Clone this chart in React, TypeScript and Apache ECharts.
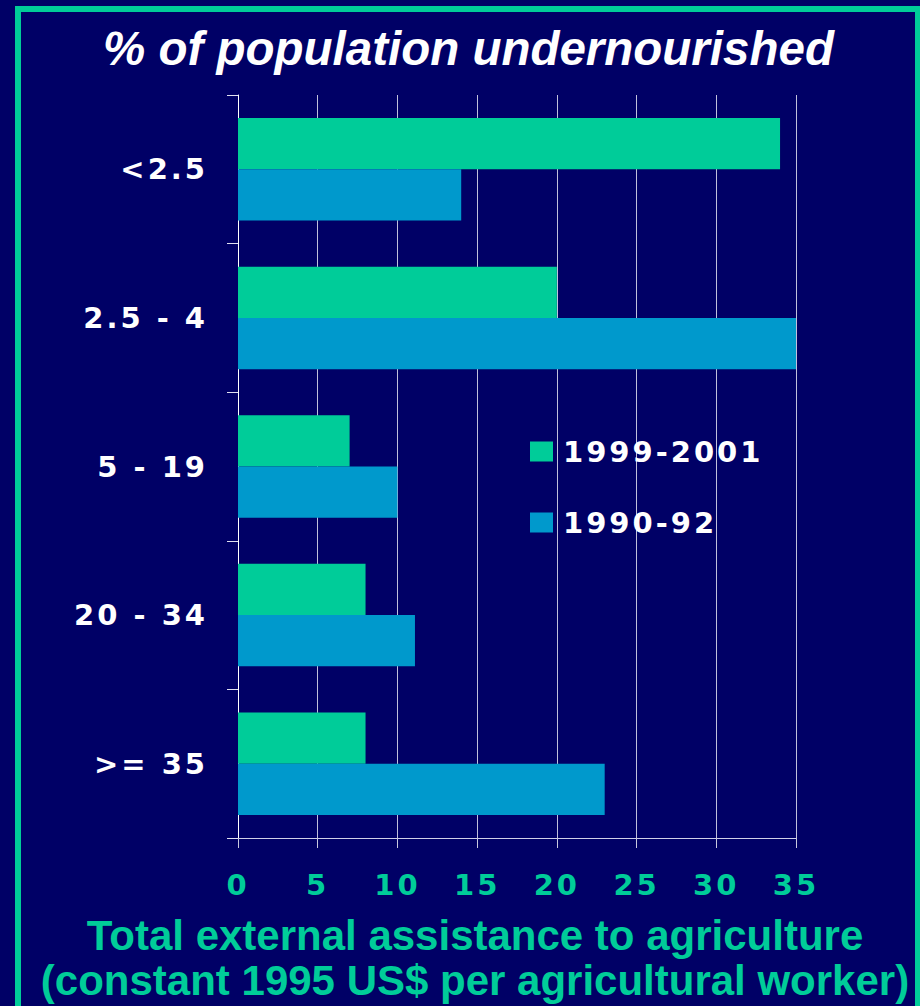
import React, { useEffect, useRef } from "react";
import * as echarts from "echarts";

const categories = ["<2.5", "2.5 - 4", "5 - 19", "20 - 34", ">= 35"];
const seriesNames = ["1999-2001", "1990-92"];
const values1999 = [34, 20, 7, 8, 8];
const values1990 = [14, 35, 10, 11.1, 23];
const xTicks = { min: 0, max: 35, interval: 5 };

const titleText = "% of population undernourished";
const axisTitle = "Total external assistance to agriculture\n(constant 1995 US$ per agricultural worker)";

const GREEN = "#00CC99";
const BLUE = "#0099CC";
const BG = "#000066";

export default function App() {
  const ref = useRef<HTMLDivElement>(null);
  useEffect(() => {
    if (!ref.current) return;
    const chart = echarts.init(ref.current, null, { renderer: "svg" });
    const labelFont = { fontFamily: "DejaVu Sans", fontWeight: "bold" as const, fontSize: 29 };
    chart.setOption({
      animation: false,
      backgroundColor: BG,
      title: {
        text: titleText,
        left: 103,
        top: 23,
        padding: 0,
        textStyle: {
          color: "#FFFFFF",
          fontFamily: "Liberation Sans",
          fontStyle: "italic",
          fontWeight: "bold",
          fontSize: 47.5,
          lineHeight: 50,
        },
      },
      legend: {
        orient: "vertical",
        left: 530,
        top: 437,
        padding: 0,
        itemWidth: 23,
        itemHeight: 20,
        itemGap: 42,
        icon: "rect",
        data: seriesNames,
        textStyle: { ...labelFont, color: "#FFFFFF", padding: [0, 0, 0, 5] },
      },
      grid: { left: 238, right: 124, top: 95, bottom: 168, containLabel: false, outerBoundsMode: "none" },
      xAxis: {
        type: "value",
        min: xTicks.min,
        max: xTicks.max,
        interval: xTicks.interval,
        axisLine: { show: true, lineStyle: { color: "#D0D0E8", width: 1 } },
        axisTick: { show: true, length: 10, inside: false, lineStyle: { color: "#C8C8E0" } },
        splitLine: { show: true, lineStyle: { color: "#C0C0DC", width: 1 } },
        axisLabel: { ...labelFont, color: GREEN, margin: 32 },
        name: axisTitle,
        nameLocation: "middle",
        nameGap: 75,
        nameTextStyle: {
          color: GREEN,
          fontFamily: "Liberation Sans",
          fontWeight: "bold",
          fontSize: 42,
          lineHeight: 45,
          padding: [0, 84, 0, 0],
        },
      },
      yAxis: {
        type: "category",
        data: categories,
        inverse: true,
        axisLine: { show: true, lineStyle: { color: "#FFFFFF", width: 1 } },
        axisTick: { show: true, length: 11, inside: false, lineStyle: { color: "#E0E0F0" } },
        splitLine: { show: false },
        axisLabel: { ...labelFont, color: "#FFFFFF", margin: 30 },
      },
      graphic: [
        {
          type: "rect",
          shape: { x: 18, y: 9, width: 900, height: 1100 },
          style: { fill: "none", stroke: GREEN, lineWidth: 6 },
          silent: true,
          z: 100,
        },
      ],
      series: [
        {
          name: seriesNames[0],
          type: "bar",
          data: values1999,
          itemStyle: { color: GREEN },
          barGap: "0%",
          barCategoryGap: "31%",
        },
        {
          name: seriesNames[1],
          type: "bar",
          data: values1990,
          itemStyle: { color: BLUE },
          barGap: "0%",
          barCategoryGap: "31%",
        },
      ],
    });
    return () => chart.dispose();
  }, []);
  return (
    <>
      <style>{`.tracked-chart svg text[style*="DejaVu"] { letter-spacing: 3px; }`}</style>
      <div
        ref={ref}
        className="tracked-chart"
        style={{ position: "fixed", left: 0, top: 0, width: 920, height: 1006 }}
      />
    </>
  );
}
